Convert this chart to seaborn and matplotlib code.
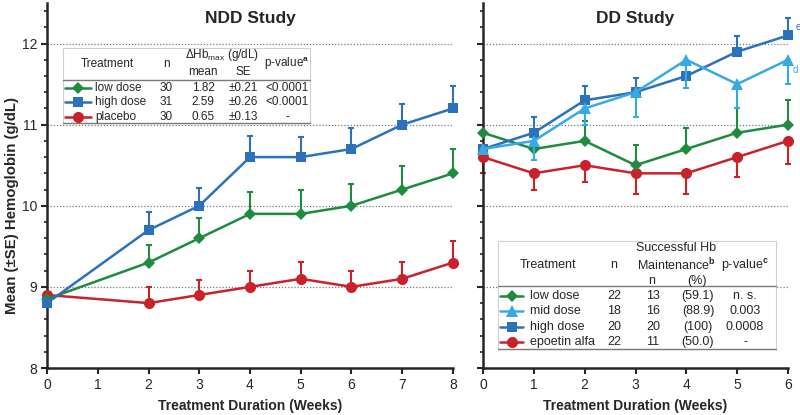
import numpy as np
import pandas as pd
import seaborn as sns
from matplotlib import pyplot as plt
from matplotlib.lines import Line2D
from matplotlib.patches import Rectangle
from matplotlib.ticker import MultipleLocator

# ---- NDD study (left panel) ----
ndd_weeks = [0, 2, 3, 4, 5, 6, 7, 8]
ndd_low = [8.85, 9.3, 9.6, 9.9, 9.9, 10.0, 10.2, 10.4]
ndd_low_se = [0, 0.22, 0.25, 0.27, 0.29, 0.27, 0.29, 0.3]
ndd_high = [8.8, 9.7, 10.0, 10.6, 10.6, 10.7, 11.0, 11.2]
ndd_high_se = [0, 0.22, 0.22, 0.26, 0.25, 0.26, 0.26, 0.28]
ndd_placebo = [8.9, 8.8, 8.9, 9.0, 9.1, 9.0, 9.1, 9.3]
ndd_placebo_se = [0, 0.2, 0.18, 0.2, 0.21, 0.2, 0.21, 0.26]

# ---- DD study (right panel) ----
dd_weeks = [0, 1, 2, 3, 4, 5, 6]
dd_low = [10.9, 10.7, 10.8, 10.5, 10.7, 10.9, 11.0]
dd_low_se = [0, 0.2, 0.25, 0.25, 0.26, 0.3, 0.3]
dd_mid = [10.7, 10.8, 11.2, 11.4, 11.8, 11.5, 11.8]
dd_mid_se = [0, 0.23, 0.2, 0.31, 0.35, 0.3, 0.3]
dd_high = [10.7, 10.9, 11.3, 11.4, 11.6, 11.9, 12.1]
dd_high_se = [0, 0.19, 0.18, 0.18, 0.2, 0.19, 0.21]
dd_epo = [10.6, 10.4, 10.5, 10.4, 10.4, 10.6, 10.8]
dd_epo_se = [0.2, 0.21, 0.21, 0.26, 0.26, 0.25, 0.28]

# ---- table contents ----
ndd_table_names = ["low dose", "high dose", "placebo"]
ndd_table_n = ["30", "31", "30"]
ndd_table_mean = ["1.82", "2.59", "0.65"]
ndd_table_se = ["±0.21", "±0.26", "±0.13"]
ndd_table_p = ["<0.0001", "<0.0001", "-"]

dd_table_names = ["low dose", "mid dose", "high dose", "epoetin alfa"]
dd_table_n = ["22", "18", "20", "22"]
dd_table_succ = ["13", "16", "20", "11"]
dd_table_pct = ["(59.1)", "(88.9)", "(100)", "(50.0)"]
dd_table_p = ["n. s.", "0.003", "0.0008", "-"]

GREEN = "#1e8b3e"
LIGHT = "#38aae2"
BLUE = "#2b71bb"
RED = "#c9222b"

styles = {
    "low dose": (GREEN, "D", 6),
    "mid dose": (LIGHT, "^", 8),
    "high dose": (BLUE, "s", 7),
    "placebo": (RED, "o", 8),
    "epoetin alfa": (RED, "o", 8),
}

sns.set_style("ticks")
plt.rcParams['font.family'] = ['Liberation Sans', 'DejaVu Sans']
plt.rcParams['mathtext.fontset'] = 'custom'
plt.rcParams['mathtext.rm'] = 'Liberation Sans'
plt.rcParams['mathtext.bf'] = 'Liberation Sans:bold'

W, H = 800, 415
fig = plt.figure(figsize=(8, 4.15), dpi=100)
ax1 = fig.add_axes([47 / W, 1 - 368 / H, 406 / W, 365 / H])
ax2 = fig.add_axes([483 / W, 1 - 368 / H, 305 / W, 365 / H])


def fx(px):
    return px / W


def fy(py):
    return 1 - py / H


def draw_series(ax, weeks, vals, se, name, upward=True, z=3):
    color, marker, ms = styles[name]
    sns.lineplot(x=weeks, y=vals, color=color, marker=marker, markersize=ms,
                 markeredgewidth=0, linewidth=1.8, errorbar=None, ax=ax,
                 clip_on=False, zorder=z)
    se = np.array(se)
    zeros = np.zeros_like(se)
    yerr = [zeros, se] if upward else [se, zeros]
    ax.errorbar(weeks, vals, yerr=yerr, fmt="none", ecolor=color,
                elinewidth=1.5, capsize=2.5, capthick=1.5, clip_on=False,
                zorder=z - 0.5)


draw_series(ax1, ndd_weeks, ndd_placebo, ndd_placebo_se, "placebo", True, 3)
draw_series(ax1, ndd_weeks, ndd_low, ndd_low_se, "low dose", True, 4)
draw_series(ax1, ndd_weeks, ndd_high, ndd_high_se, "high dose", True, 5)

draw_series(ax2, dd_weeks, dd_epo, dd_epo_se, "epoetin alfa", False, 3)
draw_series(ax2, dd_weeks, dd_low, dd_low_se, "low dose", True, 4)
draw_series(ax2, dd_weeks, dd_high, dd_high_se, "high dose", True, 5)
draw_series(ax2, dd_weeks, dd_mid, dd_mid_se, "mid dose", False, 6)

for ax, xmax, title in [(ax1, 8, "NDD Study"), (ax2, 6, "DD Study")]:
    ax.set_xlim(0, xmax)
    ax.set_ylim(8, 12.5)
    for v in [9, 10, 11, 12]:
        ax.axhline(v, ls=(0, (1, 1.5)), color="#7a7a7a", lw=0.9, zorder=0)
    ax.xaxis.set_major_locator(MultipleLocator(1))
    ax.yaxis.set_major_locator(MultipleLocator(1))
    ax.yaxis.set_minor_locator(MultipleLocator(0.2))
    ax.tick_params(which="major", direction="out", length=4, width=1.5,
                   labelsize=10, pad=3)
    ax.tick_params(which="minor", direction="out", length=2.5, width=1.2)
    for s in ["top", "right"]:
        ax.spines[s].set_visible(False)
    for s in ["left", "bottom"]:
        ax.spines[s].set_linewidth(1.8)
    ax.set_xlabel("Treatment Duration (Weeks)", fontsize=10, fontweight="bold")
    ax.xaxis.set_label_coords(0.5, -0.085)
    ax.text(0.5, 0.958, title, transform=ax.transAxes, ha="center",
            va="center", fontsize=12.5, fontweight="bold")

ax1.set_ylabel("Mean (±SE) Hemoglobin (g/dL)", fontsize=10.8, fontweight="bold")
ax1.yaxis.set_label_coords(-0.068, 0.445)
ax2.set_yticklabels([])
ax2.set_ylabel("")


def ftext(px, py, s, ha="center", size=8.5, **kw):
    fig.text(fx(px), fy(py), s, ha=ha, va="center", fontsize=size,
             zorder=7, **kw)


def box(x0, x1, y0, y1, ysep):
    fig.add_artist(Rectangle((fx(x0), fy(y1)), (x1 - x0) / W, (y1 - y0) / H,
                             transform=fig.transFigure, fc="white",
                             ec="#d0d0d0", lw=0.8, zorder=5))
    fig.add_artist(Line2D([fx(x0), fx(x1)], [fy(ysep), fy(ysep)],
                          transform=fig.transFigure, color="#7a7a7a",
                          lw=1.0, zorder=6))
    fig.add_artist(Line2D([fx(x0), fx(x1)], [fy(y1), fy(y1)],
                          transform=fig.transFigure, color="#7a7a7a",
                          lw=1.0, zorder=6))


def sample(x0, x1, py, name):
    color, marker, ms = styles[name]
    fig.add_artist(Line2D([fx(x0), fx((x0 + x1) / 2), fx(x1)],
                          [fy(py)] * 3, transform=fig.transFigure,
                          color=color, lw=1.8, marker=marker, markersize=ms,
                          markeredgewidth=0, markevery=[1], zorder=7))


# left table
fl = 8.5
box(63, 310, 48, 123, 80.5)
ftext(107, 64, "Treatment", size=fl)
ftext(166, 64, "n", size=fl)
ftext(222, 55, r"ΔHb$_{\mathregular{max}}$ (g/dL)", size=fl)
ftext(203, 72, "mean", size=fl)
ftext(243, 72, "SE", size=fl)
ftext(287, 64, r"p-value$^{\mathbf{a}}$", size=fl)
for i, name in enumerate(ndd_table_names):
    py = 88 + i * 14.3
    sample(65, 91, py, name)
    ftext(95, py, name, ha="left", size=fl)
    ftext(166, py, ndd_table_n[i], size=fl)
    ftext(203, py, ndd_table_mean[i], size=fl)
    ftext(243, py, ndd_table_se[i], size=fl)
    ftext(287, py, ndd_table_p[i], size=fl)

# right table
fr = 9
box(498, 776, 241, 349, 286)
ftext(548, 265, "Treatment", size=fr)
ftext(614, 265, "n", size=fr)
ftext(676, 248, "Successful Hb", size=fr)
ftext(676, 265, r"Maintenance$^{\mathbf{b}}$", size=fr)
ftext(652, 281, "n", size=fr)
ftext(697, 281, "(%)", size=fr)
ftext(745, 265, r"p-value$^{\mathbf{c}}$", size=fr)
for i, name in enumerate(dd_table_names):
    py = 295.5 + i * 15.6
    sample(500, 523, py, name)
    ftext(530, py, name, ha="left", size=fr)
    ftext(614, py, dd_table_n[i], size=fr)
    ftext(653, py, dd_table_succ[i], size=fr)
    ftext(698, py, dd_table_pct[i], size=fr)
    ftext(745, py, dd_table_p[i], size=fr)

# footnote letters next to the last DD points
ftext(796, 27, "e", ha="left", size=7, color=BLUE)
ftext(793, 70, "d", ha="left", size=7, color=LIGHT)

fig.savefig("out.png", dpi=100)
